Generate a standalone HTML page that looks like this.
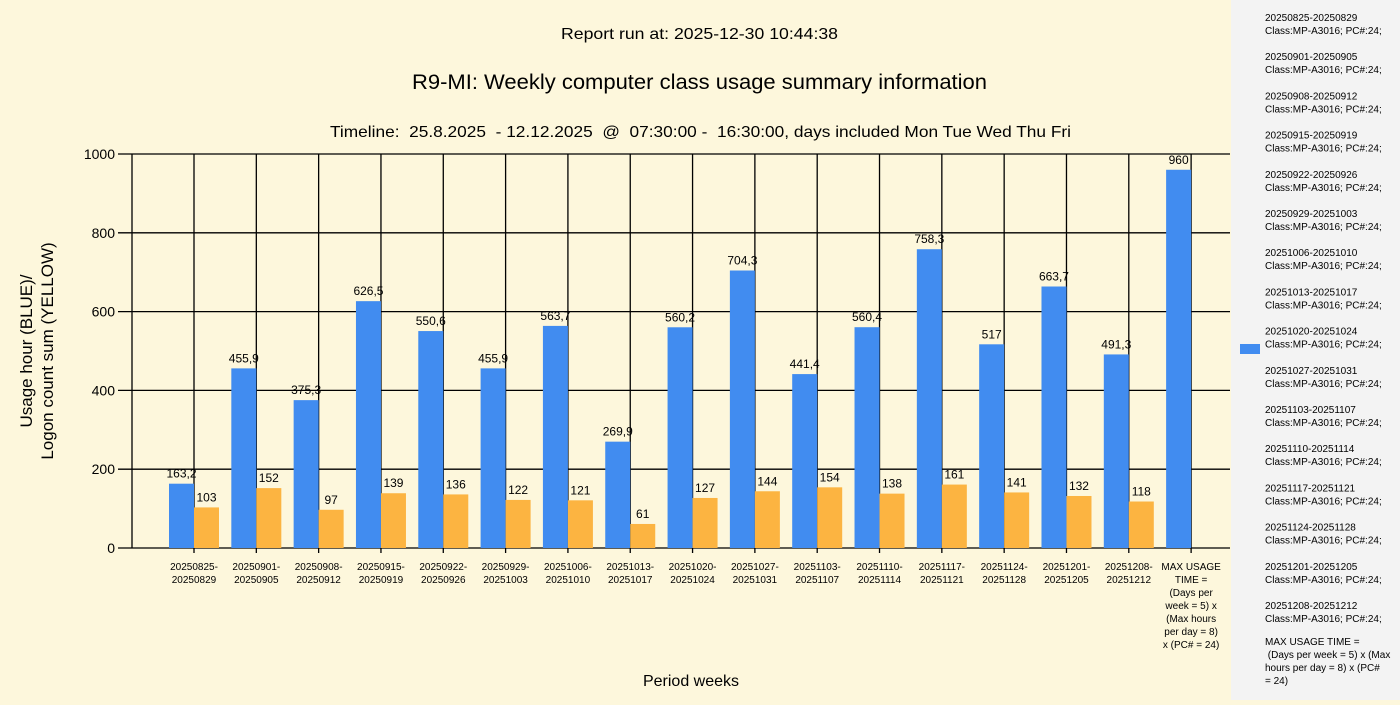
<!DOCTYPE html>
<html><head><meta charset="utf-8"><style>
body{margin:0;width:1400px;height:700px;overflow:hidden;background:#fdf7dc;font-family:"Liberation Sans","DejaVu Sans",sans-serif}
</style></head><body>
<svg id="s" width="1400" height="700" xmlns="http://www.w3.org/2000/svg" font-family="Liberation Sans, DejaVu Sans, sans-serif">
<rect width="1400" height="700" fill="#fdf7dc"/>
<rect x="1231" y="0" width="169" height="700" fill="#f3f3f3"/>
<text x="561" y="39" font-size="16" textLength="277" lengthAdjust="spacingAndGlyphs">Report run at: 2025-12-30 10:44:38</text>
<text x="412" y="89" font-size="21" textLength="575" lengthAdjust="spacingAndGlyphs">R9-MI: Weekly computer class usage summary information</text>
<text x="330" y="137" font-size="16" textLength="741" lengthAdjust="spacingAndGlyphs" xml:space="preserve">Timeline:  25.8.2025  - 12.12.2025  @  07:30:00 -  16:30:00, days included Mon Tue Wed Thu Fri</text>
<text x="691" y="686" font-size="16" text-anchor="middle">Period weeks</text>
<text transform="translate(32,351) rotate(-90)" font-size="17" text-anchor="middle">Usage hour (BLUE)/</text>
<text transform="translate(53,351) rotate(-90)" font-size="17" text-anchor="middle">Logon count sum (YELLOW)</text>
<rect x="1240" y="344" width="20" height="10" fill="#418cf0"/>
<g id="g"></g>
</svg>
<script>
var g=document.getElementById('g'),h='';
var B=[163.2,455.9,375.3,626.5,550.6,455.9,563.7,269.9,560.2,704.3,441.4,560.4,758.3,517,663.7,491.3,960];
var O=[103,152,97,139,136,122,121,61,127,144,154,138,161,141,132,118];
var P=['20250825-20250829','20250901-20250905','20250908-20250912','20250915-20250919','20250922-20250926','20250929-20251003','20251006-20251010','20251013-20251017','20251020-20251024','20251027-20251031','20251103-20251107','20251110-20251114','20251117-20251121','20251124-20251128','20251201-20251205','20251208-20251212'];
function Y(v){return 548-v*0.394;}
var st=62.32;
for(var i=0;i<=5;i++){var y=Y(i*200);h+='<line x1="118" x2="1230" y1="'+y+'" y2="'+y+'" stroke="#000" stroke-width="1.3"/>';
h+='<text x="115" y="'+(y+5)+'" font-size="14" text-anchor="end">'+(i*200)+'</text>';}
h+='<line x1="132" x2="132" y1="154" y2="548" stroke="#000" stroke-width="1.3"/>';
for(var i=0;i<17;i++){var c=194+st*i;
h+='<line x1="'+c+'" x2="'+c+'" y1="154" y2="553" stroke="#000" stroke-width="1.3"/>';
h+='<rect x="'+(c-25)+'" y="'+Y(B[i])+'" width="25" height="'+(B[i]*0.394)+'" fill="#418cf0"/>';
h+='<text x="'+(c-12.5)+'" y="'+(Y(B[i])-6)+'" font-size="12" text-anchor="middle">'+String(B[i]).replace('.',',')+'</text>';
if(i<16){h+='<rect x="'+c+'" y="'+Y(O[i])+'" width="25" height="'+(O[i]*0.394)+'" fill="#fcb441"/>';
h+='<text x="'+(c+12.5)+'" y="'+(Y(O[i])-6)+'" font-size="12" text-anchor="middle">'+O[i]+'</text>';
var p=P[i].split('-');
h+='<text x="'+c+'" y="570" font-size="10" text-anchor="middle">'+p[0]+'-</text><text x="'+c+'" y="583" font-size="10" text-anchor="middle">'+p[1]+'</text>';}
}
var m=['MAX USAGE','TIME =','(Days per','week = 5) x','(Max hours','per day = 8)','x (PC# = 24)'];
for(var k=0;k<m.length;k++)h+='<text x="'+(194+st*16)+'" y="'+(570+k*13)+'" font-size="10" text-anchor="middle">'+m[k]+'</text>';
for(var i=0;i<16;i++){var y=21+i*39.2;
h+='<text x="1265" y="'+y+'" font-size="10">'+P[i]+'</text><text x="1265" y="'+(y+13)+'" font-size="10">Class:MP-A3016; PC#:24;</text>';}
var L=['MAX USAGE TIME =',' (Days per week = 5) x (Max','hours per day = 8) x (PC#','= 24)'];
for(var k=0;k<4;k++)h+='<text x="1265" y="'+(645+k*13)+'" font-size="10" xml:space="preserve">'+L[k]+'</text>';
g.innerHTML=h;
</script>
</body></html>
